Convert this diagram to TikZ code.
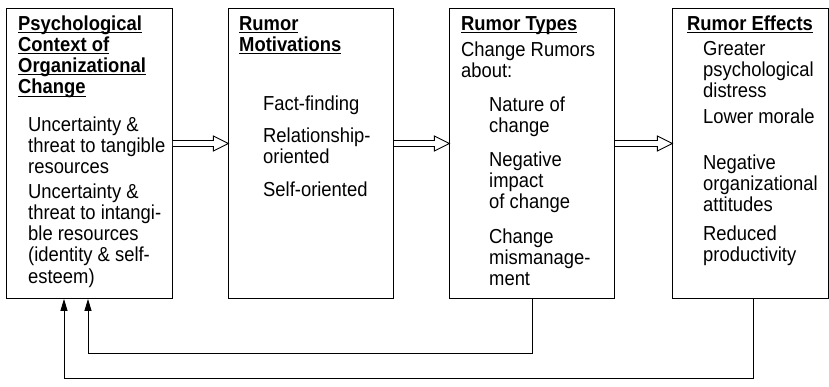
\documentclass[tikz,border=0pt]{standalone}
\usepackage{fontspec}
\setmainfont{Liberation Sans}
\usetikzlibrary{arrows.meta,calc}
\newcommand\myul[1]{\setbox0=\hbox{#1}\rlap{\rule[-2.5pt]{\wd0}{0.85pt}}\box0}
\newcommand\dblarrow[3]{%
  \draw[dbl] let \p1=(#1), \p2=(#2) in
    (\x1,\y1+3pt) -- (\x2-15pt,\y1+3pt) -- (\x2-15pt,\y1+7.5pt) -- (\x2,\y1)
    -- (\x2-15pt,\y1-7.5pt) -- (\x2-15pt,\y1-3pt) -- (\x1,\y1-3pt);}
\begin{document}
\begin{tikzpicture}[x=1pt,y=-1pt,
  box/.style={draw=black,line width=0.9pt,anchor=north west,inner sep=0pt},
  txt/.style={anchor=base west,inner sep=0pt,align=left,yscale=1.1,transform shape,
    font=\fontsize{18.4}{19.36}\selectfont},
  hd/.style={txt,font=\fontsize{18.4}{19.36}\selectfont\bfseries},
  fb/.style={line width=0.9pt,-{Triangle[length=12pt,width=7pt]}},
  dbl/.style={line width=0.9pt,fill=white,line join=miter}]
\useasboundingbox (0,0) rectangle (829,386);
% boxes
\node[box,minimum width=166pt,minimum height=290pt] (b1) at (6,8) {};
\node[box,minimum width=165pt,minimum height=290pt] (b2) at (228.3,8) {};
\node[box,minimum width=165pt,minimum height=290pt] (b3) at (449.3,8) {};
\node[box,minimum width=155.2pt,minimum height=290pt] (b4) at (672.3,8) {};
% (multi-line nodes are placed by the baseline of their last line)
% box 1
\node[hd] (h1) at (18,93.9) {\myul{Psychological}\\\myul{Context of}\\\myul{Organizational}\\\myul{Change}};
\node[txt] (t1a) at (28,173.6) {Uncertainty \&\\threat to tangible\\resources};
\node[txt] (t1b) at (28,283.2) {Uncertainty \&\\threat to intangi-\\ble resources\\(identity \& self-\\esteem)};
% box 2
\node[hd] (h2) at (239,51.3) {\myul{Rumor}\\\myul{Motivations}};
\node[txt] (t2a) at (263,110) {Fact-finding};
\node[txt] (t2b) at (263,163.3) {Relationship-\\oriented};
\node[txt] (t2c) at (263,196) {Self-oriented};
% box 3
\node[hd] (h3) at (461,30) {\myul{Rumor Types}};
\node[txt] (t3a) at (461,77.3) {Change Rumors\\about:};
\node[txt] (t3b) at (489,132.3) {Nature of\\change};
\node[txt] (t3c) at (489,208.6) {Negative\\impact\\of change};
\node[txt] (t3d) at (489,285.6) {Change\\mismanage-\\ment};
% box 4
\node[hd] (h4) at (687,30) {\myul{Rumor Effects}};
\node[txt] (t4a) at (703,97.6) {Greater\\psychological\\distress};
\node[txt] (t4b) at (703,123) {Lower morale};
\node[txt] (t4c) at (703,211.6) {Negative\\organizational\\attitudes};
\node[txt] (t4d) at (703,261.3) {Reduced\\productivity};
% double arrows
\dblarrow{b1.east |- 0,143.5}{b2.west |- 0,143.5}{}
\dblarrow{b2.east |- 0,143.5}{b3.west |- 0,143.5}{}
\dblarrow{b3.east |- 0,143.5}{b4.west |- 0,143.5}{}
% feedback
\draw[fb] (b3.south -| 532,0) -- (532,353) -| (b1.south -| 88,0);
\draw[fb] (b4.south -| 753,0) -- (753,378) -| (b1.south -| 64,0);
\end{tikzpicture}
\end{document}
